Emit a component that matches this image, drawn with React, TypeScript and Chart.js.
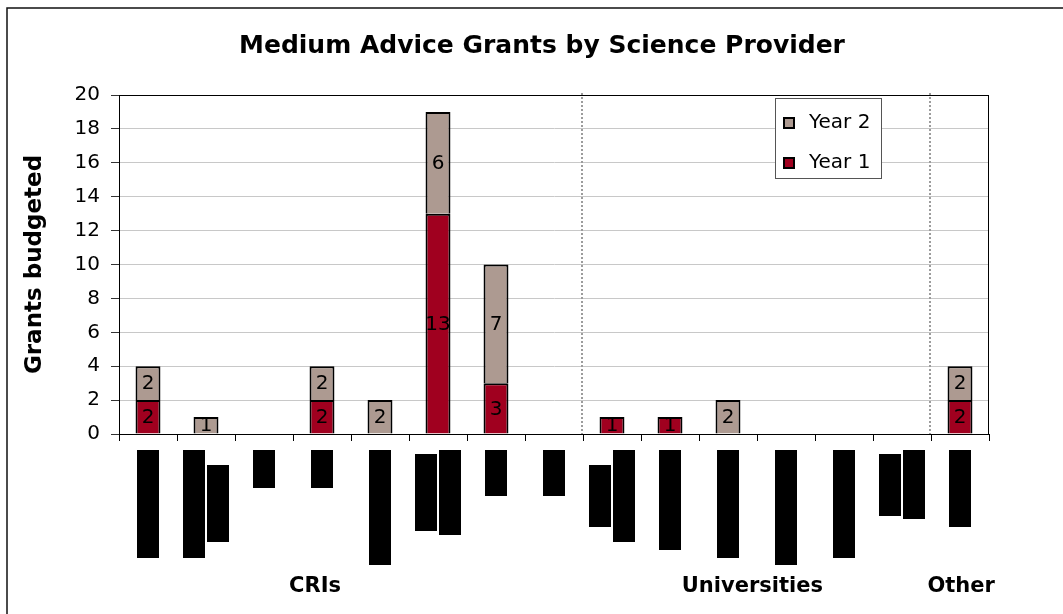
import { useEffect, useRef } from 'react';
import { Chart, registerables } from 'chart.js';

Chart.register(...registerables);

const FONT = '"DejaVu Sans", Verdana, sans-serif';

const chartTitle = 'Medium Advice Grants by Science Provider';
const yAxisTitle = 'Grants budgeted';

// Provider names are blacked out: each label is a run of block glyphs and is
// drawn as a solid bar as long as the run measures; two-line labels are arrays.
const providerLabels: (string | string[])[] = [
  '██████████████',
  ['██████████████', '██████████'],
  '█████',
  '█████',
  '███████████████',
  ['██████████', '███████████'],
  '██████',
  '██████',
  ['████████', '████████████'],
  '█████████████',
  '██████████████',
  '███████████████',
  '██████████████',
  ['████████', '█████████'],
  '██████████',
];

const year1 = [2, 0, 0, 2, 0, 13, 3, 0, 1, 1, 0, 0, 0, 0, 2];
const year2 = [2, 1, 0, 2, 2, 6, 7, 0, 0, 0, 2, 0, 0, 0, 2];

const seriesNames = ['Year 1', 'Year 2'];
const seriesColors = ['#A0001F', '#AD9A91'];

const yMin = 0;
const yMax = 20;
const yStep = 2;

// Provider groups: label anchor and dotted dividers, in category units.
const groupNames = ['CRIs', 'Universities', 'Other'];
const groupAnchors = [2.88, 10.42, 14.02];
const groupDividers = [7.5, 13.5];

const chromePlugin = {
  id: 'chrome',
  beforeDatasetsDraw(chart: any) {
    const { ctx, chartArea: a, scales } = chart;
    const x = scales.x;
    ctx.save();
    // plot frame (top and right edges; axes draw the others)
    ctx.strokeStyle = '#000';
    ctx.lineWidth = 1;
    ctx.strokeRect(a.left + 0.5, a.top + 0.5, a.right - a.left - 1, a.bottom - a.top);
    // group dividers
    ctx.strokeStyle = '#9c9c9c';
    ctx.lineWidth = 2;
    ctx.setLineDash([2, 2]);
    groupDividers.forEach((v) => {
      const px = Math.round(x.getPixelForValue(v)) - 1;
      ctx.beginPath();
      ctx.moveTo(px, a.top - 2);
      ctx.lineTo(px, a.bottom);
      ctx.stroke();
    });
    ctx.restore();
  },
  afterDatasetsDraw(chart: any) {
    const { ctx } = chart;
    ctx.save();
    ctx.font = `20px ${FONT}`;
    ctx.fillStyle = '#000';
    ctx.textAlign = 'center';
    ctx.textBaseline = 'middle';
    chart.data.datasets.forEach((ds: any, di: number) => {
      const meta = chart.getDatasetMeta(di);
      meta.data.forEach((el: any, i: number) => {
        const v = ds.data[i];
        if (!v) return;
        ctx.fillText(String(v), el.x, (el.y + el.base) / 2 + 1);
      });
    });
    ctx.restore();
  },
  afterDraw(chart: any) {
    const { ctx, chartArea: a, scales } = chart;
    const x = scales.x;
    ctx.save();

    // outer frame
    ctx.strokeStyle = '#111';
    ctx.lineWidth = 1.5;
    ctx.strokeRect(7, 8, chart.width + 20, chart.height + 20);

    // title
    ctx.fillStyle = '#000';
    ctx.font = `bold 25px ${FONT}`;
    ctx.textAlign = 'center';
    ctx.textBaseline = 'alphabetic';
    ctx.fillText(chartTitle, 542, 53);

    // y axis title
    ctx.save();
    ctx.font = `bold 23px ${FONT}`;
    ctx.translate(41, (a.top + a.bottom) / 2);
    ctx.rotate(-Math.PI / 2);
    ctx.textAlign = 'center';
    ctx.textBaseline = 'alphabetic';
    ctx.fillText(yAxisTitle, 0, 0);
    ctx.restore();

    // redacted category labels: vertical bars, lines centred on each other
    ctx.font = `10px ${FONT}`;
    const lineGap = 24;
    const thickness = 22;
    const labelTop = a.bottom + 16;
    chart.data.labels.forEach((lab: string | string[], i: number) => {
      const lines = Array.isArray(lab) ? lab : [lab];
      const widths = lines.map((l) => ctx.measureText(l).width);
      const maxW = Math.max(...widths);
      const cx = x.getPixelForValue(i);
      lines.forEach((_l, j) => {
        const lx = cx + (j - (lines.length - 1) / 2) * lineGap;
        const top = labelTop + (maxW - widths[j]) / 2;
        ctx.fillStyle = '#000';
        ctx.fillRect(Math.round(lx - thickness / 2), Math.round(top), thickness, Math.round(widths[j]));
      });
    });

    // group names
    ctx.fillStyle = '#000';
    ctx.font = `bold 21px ${FONT}`;
    ctx.textAlign = 'center';
    ctx.textBaseline = 'alphabetic';
    groupNames.forEach((g, i) => {
      ctx.fillText(g, x.getPixelForValue(groupAnchors[i]), 592);
    });

    // legend, Year 2 listed first
    const lx = a.right - 214;
    const ly = a.top + 3;
    const lw = 106;
    const lh = 80;
    ctx.fillStyle = '#fff';
    ctx.fillRect(lx, ly, lw, lh);
    ctx.strokeStyle = '#555';
    ctx.lineWidth = 1;
    ctx.strokeRect(lx + 0.5, ly + 0.5, lw, lh);
    ctx.font = `20px ${FONT}`;
    ctx.textAlign = 'left';
    const order = [1, 0];
    order.forEach((di, k) => {
      const ds = chart.data.datasets[di];
      const base = ly + 30 + k * 40;
      ctx.fillStyle = ds.backgroundColor;
      ctx.fillRect(lx + 9, base - 10, 10, 10);
      ctx.strokeStyle = '#000';
      ctx.lineWidth = 2;
      ctx.strokeRect(lx + 9, base - 10, 10, 10);
      ctx.fillStyle = '#000';
      ctx.fillText(ds.label, lx + 34, base);
    });

    ctx.restore();
  },
};

export default function App() {
  const ref = useRef<HTMLCanvasElement>(null);

  useEffect(() => {
    if (!ref.current) return;
    const chart = new Chart(ref.current, {
      type: 'bar',
      data: {
        labels: providerLabels,
        datasets: [
          {
            label: seriesNames[0],
            data: year1,
            backgroundColor: seriesColors[0],
            borderColor: '#000',
            borderWidth: 2,
            barPercentage: 0.43,
            categoryPercentage: 1,
          },
          {
            label: seriesNames[1],
            data: year2,
            backgroundColor: seriesColors[1],
            borderColor: '#000',
            borderWidth: 2,
            barPercentage: 0.43,
            categoryPercentage: 1,
          },
        ],
      },
      options: {
        responsive: false,
        animation: false,
        devicePixelRatio: 1,
        layout: { padding: { top: 95, right: 74, left: 0, bottom: 0 } },
        plugins: {
          legend: { display: false },
          title: { display: false },
          tooltip: { enabled: false },
        },
        scales: {
          x: {
            stacked: true,
            ticks: { display: false },
            grid: {
              drawOnChartArea: false,
              drawTicks: true,
              tickLength: 7,
              tickColor: '#000',
              offset: true,
            },
            border: { color: '#000', width: 1 },
            afterFit: (s: any) => {
              s.height = 180;
            },
          },
          y: {
            stacked: true,
            min: yMin,
            max: yMax,
            ticks: {
              stepSize: yStep,
              color: '#000',
              padding: 11,
              font: { family: FONT, size: 20 },
            },
            grid: { color: '#c8c8c8', tickLength: 8, tickColor: '#333' },
            border: { color: '#000', width: 1 },
            afterFit: (s: any) => {
              s.width = 119;
            },
          },
        },
      },
      plugins: [chromePlugin],
    });
    return () => chart.destroy();
  }, []);

  return (
    <div style={{ position: 'absolute', left: 0, top: 0, width: 1063, height: 614, background: '#fff', overflow: 'hidden' }}>
      <canvas ref={ref} width={1063} height={614} style={{ display: 'block' }} />
    </div>
  );
}
